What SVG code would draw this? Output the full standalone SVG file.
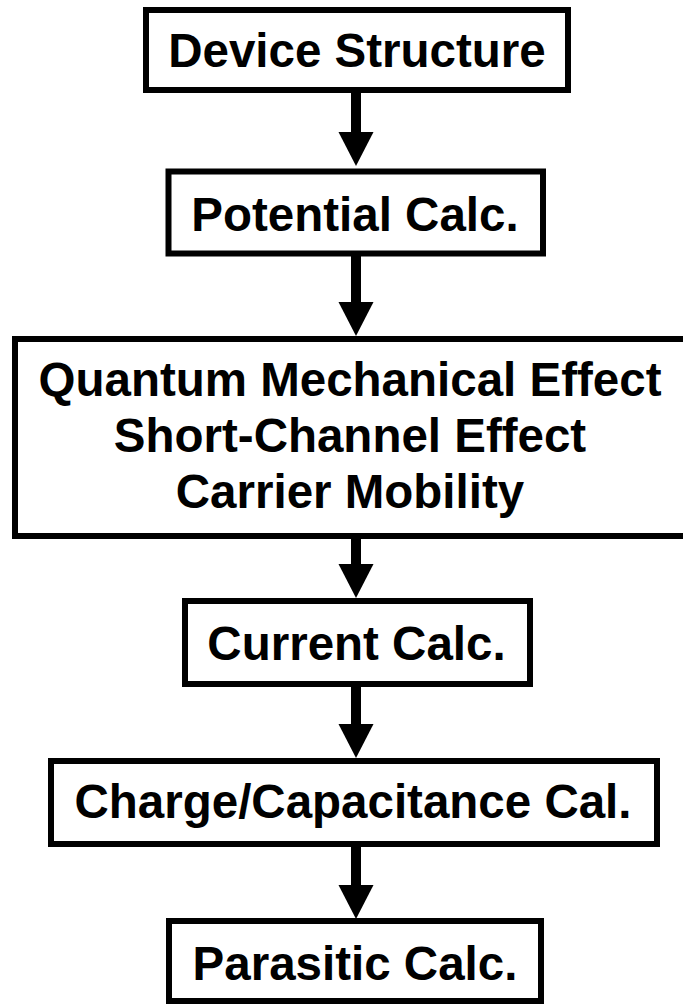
<svg xmlns="http://www.w3.org/2000/svg" width="683" height="1005" viewBox="0 0 683 1005">
  <style>
    .box { fill: #ffffff; stroke: #000000; stroke-width: 6; }
    .label { font-family: "Liberation Sans", Arial, sans-serif; font-weight: bold; font-size: 47.5px; fill: #000000; text-anchor: middle; }
    .flow { stroke: #000000; stroke-width: 10; fill: none; marker-end: url(#head); }
  </style>
  <defs>
    <marker id="head" markerUnits="userSpaceOnUse" markerWidth="35" markerHeight="36" refX="0" refY="17.5" orient="auto" overflow="visible">
      <path d="M0,0 L34,17.5 L0,35 Z" fill="#000000"/>
    </marker>
  </defs>
  <rect width="683" height="1005" fill="#ffffff"/>

  <!-- flow connectors -->
  <g id="connectors">
    <line class="flow" x1="356" y1="92" x2="356" y2="132"/>
    <line class="flow" x1="356" y1="256" x2="356" y2="302"/>
    <line class="flow" x1="356" y1="538" x2="356" y2="564"/>
    <line class="flow" x1="356" y1="686" x2="356" y2="724"/>
    <line class="flow" x1="356" y1="846" x2="356" y2="885"/>
  </g>

  <g id="device-structure">
    <rect class="box" x="146" y="10" width="422" height="80"/>
    <text class="label" x="357" y="67">Device Structure</text>
  </g>

  <g id="potential-calc">
    <rect class="box" x="168.5" y="171.5" width="374.5" height="82"/>
    <text class="label" x="355" y="231">Potential Calc.</text>
  </g>

  <g id="physical-effects">
    <rect class="box" x="15" y="339" width="672" height="197"/>
    <text class="label" x="350" y="396">Quantum Mechanical Effect</text>
    <text class="label" x="350" y="452">Short-Channel Effect</text>
    <text class="label" x="350" y="508">Carrier Mobility</text>
  </g>

  <g id="current-calc">
    <rect class="box" x="185" y="601" width="345" height="83"/>
    <text class="label" x="356.5" y="660">Current Calc.</text>
  </g>

  <g id="charge-capacitance">
    <rect class="box" x="51" y="761" width="606" height="83"/>
    <text class="label" x="353" y="818">Charge/Capacitance Cal.</text>
  </g>

  <g id="parasitic-calc">
    <rect class="box" x="169" y="921" width="372" height="80"/>
    <text class="label" x="355" y="980">Parasitic Calc.</text>
  </g>
</svg>
